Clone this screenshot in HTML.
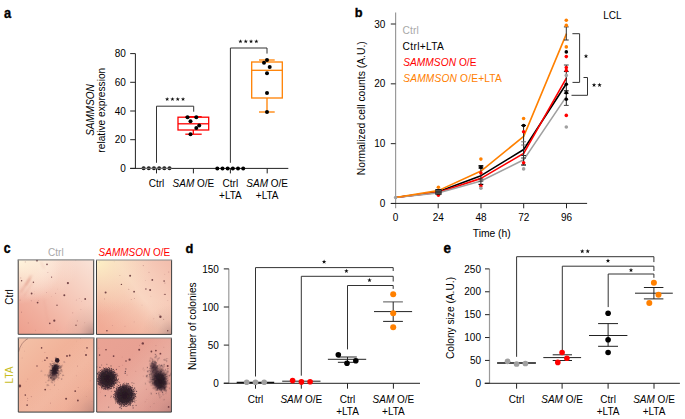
<!DOCTYPE html>
<html><head><meta charset="utf-8"><style>
html,body{margin:0;padding:0;background:#fff;overflow:hidden;width:685px;height:419px;}
svg{display:block;font-family:"Liberation Sans",sans-serif;}
</style></head><body>
<svg width="685" height="419" viewBox="0 0 685 419">
<rect width="685" height="419" fill="#fff"/>
<text transform="translate(3.9 17.6) scale(0.86 1)" font-size="15" font-weight="bold" stroke="#000" stroke-width="0.35">a</text>
<line x1="130.2" y1="168.4" x2="135.4" y2="168.4" stroke="#222" stroke-width="1"/>
<text x="125.8" y="172.0" font-size="10" text-anchor="end" fill="#000" font-weight="normal">0</text>
<line x1="130.2" y1="139.70000000000002" x2="135.4" y2="139.70000000000002" stroke="#222" stroke-width="1"/>
<text x="125.8" y="143.3" font-size="10" text-anchor="end" fill="#000" font-weight="normal">20</text>
<line x1="130.2" y1="111.0" x2="135.4" y2="111.0" stroke="#222" stroke-width="1"/>
<text x="125.8" y="114.6" font-size="10" text-anchor="end" fill="#000" font-weight="normal">40</text>
<line x1="130.2" y1="82.3" x2="135.4" y2="82.3" stroke="#222" stroke-width="1"/>
<text x="125.8" y="85.89999999999999" font-size="10" text-anchor="end" fill="#000" font-weight="normal">60</text>
<line x1="130.2" y1="53.60000000000001" x2="135.4" y2="53.60000000000001" stroke="#222" stroke-width="1"/>
<text x="125.8" y="57.20000000000001" font-size="10" text-anchor="end" fill="#000" font-weight="normal">80</text>
<line x1="135.4" y1="53.6" x2="135.4" y2="168.4" stroke="#222" stroke-width="1"/>
<line x1="130.2" y1="168.4" x2="288.3" y2="168.4" stroke="#222" stroke-width="1"/>
<line x1="156.5" y1="168.4" x2="156.5" y2="173.4" stroke="#222" stroke-width="1"/>
<line x1="193.4" y1="168.4" x2="193.4" y2="173.4" stroke="#222" stroke-width="1"/>
<line x1="230.4" y1="168.4" x2="230.4" y2="173.4" stroke="#222" stroke-width="1"/>
<line x1="267.2" y1="168.4" x2="267.2" y2="173.4" stroke="#222" stroke-width="1"/>
<text x="156.5" y="186.6" font-size="10" text-anchor="middle" fill="#000" font-weight="normal">Ctrl</text>
<text x="193.4" y="186.6" font-size="10" text-anchor="middle"><tspan font-style="italic">SAM</tspan> O/E</text>
<text x="230.4" y="186.6" font-size="10" text-anchor="middle" fill="#000" font-weight="normal">Ctrl</text>
<text x="230.4" y="199.4" font-size="10" text-anchor="middle" fill="#000" font-weight="normal">+LTA</text>
<text x="267.2" y="186.6" font-size="10" text-anchor="middle"><tspan font-style="italic">SAM</tspan> O/E</text>
<text x="267.2" y="199.4" font-size="10" text-anchor="middle" fill="#000" font-weight="normal">+LTA</text>
<text x="94.2" y="110" font-size="10" text-anchor="middle" fill="#000" font-weight="normal" transform="rotate(-90 94.2 110)" font-style="italic">SAMMSON</text>
<text x="104.8" y="110.2" font-size="10.2" text-anchor="middle" fill="#000" font-weight="normal" transform="rotate(-90 104.8 110.2)">relative expression</text>
<polyline points="156.5,162.8 156.5,106.2 193.7,106.2 193.7,111.7" fill="none" stroke="#333" stroke-width="1" stroke-linejoin="round"/>
<polygon points="167.15,97.00 167.69,98.45 169.24,98.52 168.03,99.49 168.44,100.98 167.15,100.12 165.86,100.98 166.27,99.49 165.06,98.52 166.61,98.45" fill="#111"/>
<polygon points="172.45,97.00 172.99,98.45 174.54,98.52 173.33,99.49 173.74,100.98 172.45,100.12 171.16,100.98 171.57,99.49 170.36,98.52 171.91,98.45" fill="#111"/>
<polygon points="177.75,97.00 178.29,98.45 179.84,98.52 178.63,99.49 179.04,100.98 177.75,100.12 176.46,100.98 176.87,99.49 175.66,98.52 177.21,98.45" fill="#111"/>
<polygon points="183.05,97.00 183.59,98.45 185.14,98.52 183.93,99.49 184.34,100.98 183.05,100.12 181.76,100.98 182.17,99.49 180.96,98.52 182.51,98.45" fill="#111"/>
<polyline points="230.4,162.8 230.4,48 267,48 267,53.6" fill="none" stroke="#333" stroke-width="1" stroke-linejoin="round"/>
<polygon points="240.45,39.20 240.99,40.65 242.54,40.72 241.33,41.69 241.74,43.18 240.45,42.32 239.16,43.18 239.57,41.69 238.36,40.72 239.91,40.65" fill="#111"/>
<polygon points="245.75,39.20 246.29,40.65 247.84,40.72 246.63,41.69 247.04,43.18 245.75,42.32 244.46,43.18 244.87,41.69 243.66,40.72 245.21,40.65" fill="#111"/>
<polygon points="251.05,39.20 251.59,40.65 253.14,40.72 251.93,41.69 252.34,43.18 251.05,42.32 249.76,43.18 250.17,41.69 248.96,40.72 250.51,40.65" fill="#111"/>
<polygon points="256.35,39.20 256.89,40.65 258.44,40.72 257.23,41.69 257.64,43.18 256.35,42.32 255.06,43.18 255.47,41.69 254.26,40.72 255.81,40.65" fill="#111"/>
<rect x="178" y="117.2" width="30.7" height="12.8" fill="none" stroke="#ff0000" stroke-width="1.3"/>
<line x1="178" y1="123.8" x2="208.7" y2="123.8" stroke="#ff0000" stroke-width="1.3"/>
<line x1="185.3" y1="116.7" x2="201.7" y2="116.7" stroke="#ff0000" stroke-width="1.3"/>
<line x1="193.3" y1="130" x2="193.3" y2="134.2" stroke="#ff0000" stroke-width="1.3"/>
<line x1="185.3" y1="134.2" x2="201.7" y2="134.2" stroke="#ff0000" stroke-width="1.3"/>
<circle cx="187.5" cy="117.2" r="2.0" fill="#000"/>
<circle cx="196.3" cy="117.2" r="2.0" fill="#000"/>
<circle cx="190.5" cy="121.3" r="2.0" fill="#000"/>
<circle cx="199.2" cy="125.5" r="2.0" fill="#000"/>
<circle cx="196.3" cy="128" r="2.0" fill="#000"/>
<circle cx="190.5" cy="134.2" r="2.0" fill="#000"/>
<rect x="251.7" y="62" width="30.6" height="36" fill="none" stroke="#ff8000" stroke-width="1.3"/>
<line x1="251.7" y1="70.3" x2="282.3" y2="70.3" stroke="#ff8000" stroke-width="1.3"/>
<line x1="267" y1="60" x2="267" y2="62" stroke="#ff8000" stroke-width="1.3"/>
<line x1="259" y1="60" x2="274.7" y2="60" stroke="#ff8000" stroke-width="1.3"/>
<line x1="267" y1="98" x2="267" y2="112" stroke="#ff8000" stroke-width="1.3"/>
<line x1="259" y1="112" x2="274.7" y2="112" stroke="#ff8000" stroke-width="1.3"/>
<circle cx="267" cy="60" r="2.0" fill="#000"/>
<circle cx="264" cy="62.8" r="2.0" fill="#000"/>
<circle cx="269.7" cy="67" r="2.0" fill="#000"/>
<circle cx="267" cy="73.3" r="2.0" fill="#000"/>
<circle cx="267" cy="93" r="2.0" fill="#000"/>
<circle cx="267" cy="112" r="2.0" fill="#000"/>
<circle cx="143.6" cy="168.3" r="2.0" fill="#1a1a1a"/>
<circle cx="148.78" cy="168.3" r="2.0" fill="#1a1a1a"/>
<circle cx="153.95999999999998" cy="168.3" r="2.0" fill="#1a1a1a"/>
<circle cx="159.14" cy="168.3" r="2.0" fill="#1a1a1a"/>
<circle cx="164.32" cy="168.3" r="2.0" fill="#1a1a1a"/>
<circle cx="169.5" cy="168.3" r="2.0" fill="#1a1a1a"/>
<line x1="141.6" y1="168.3" x2="171.6" y2="168.3" stroke="#8a8a8a" stroke-width="0.9"/>
<circle cx="217.3" cy="168.4" r="2.0" fill="#000"/>
<circle cx="222.48000000000002" cy="168.4" r="2.0" fill="#000"/>
<circle cx="227.66000000000003" cy="168.4" r="2.0" fill="#000"/>
<circle cx="232.84" cy="168.4" r="2.0" fill="#000"/>
<circle cx="238.02" cy="168.4" r="2.0" fill="#000"/>
<circle cx="243.20000000000002" cy="168.4" r="2.0" fill="#000"/>
<text transform="translate(354.8 17) scale(0.97 1)" font-size="13.2" font-weight="bold" stroke="#000" stroke-width="0.35">b</text>
<line x1="395.6" y1="12.4" x2="395.6" y2="208.3" stroke="#9a9a9a" stroke-width="1.2"/>
<line x1="390.8" y1="203.5" x2="395.6" y2="203.5" stroke="#222" stroke-width="1"/>
<text x="385.4" y="207.1" font-size="10" text-anchor="end" fill="#000" font-weight="normal">0</text>
<line x1="390.8" y1="143.67000000000002" x2="395.6" y2="143.67000000000002" stroke="#222" stroke-width="1"/>
<text x="385.4" y="147.27" font-size="10" text-anchor="end" fill="#000" font-weight="normal">10</text>
<line x1="390.8" y1="83.84" x2="395.6" y2="83.84" stroke="#222" stroke-width="1"/>
<text x="385.4" y="87.44" font-size="10" text-anchor="end" fill="#000" font-weight="normal">20</text>
<line x1="390.8" y1="24.01000000000002" x2="395.6" y2="24.01000000000002" stroke="#222" stroke-width="1"/>
<text x="385.4" y="27.61000000000002" font-size="10" text-anchor="end" fill="#000" font-weight="normal">30</text>
<line x1="390.9" y1="203.4" x2="587.1" y2="203.4" stroke="#222" stroke-width="1"/>
<text x="395.5" y="220.5" font-size="10" text-anchor="middle" fill="#000" font-weight="normal">0</text>
<line x1="438.2" y1="203.4" x2="438.2" y2="208.3" stroke="#222" stroke-width="1"/>
<text x="438.2" y="220.5" font-size="10" text-anchor="middle" fill="#000" font-weight="normal">24</text>
<line x1="481" y1="203.4" x2="481" y2="208.3" stroke="#222" stroke-width="1"/>
<text x="481" y="220.5" font-size="10" text-anchor="middle" fill="#000" font-weight="normal">48</text>
<line x1="523.7" y1="203.4" x2="523.7" y2="208.3" stroke="#222" stroke-width="1"/>
<text x="523.7" y="220.5" font-size="10" text-anchor="middle" fill="#000" font-weight="normal">72</text>
<line x1="566.5" y1="203.4" x2="566.5" y2="208.3" stroke="#222" stroke-width="1"/>
<text x="566.5" y="220.5" font-size="10" text-anchor="middle" fill="#000" font-weight="normal">96</text>
<text x="491.7" y="236.9" font-size="10.3" text-anchor="middle" fill="#000" font-weight="normal">Time (h)</text>
<text x="365" y="108.2" font-size="10.35" text-anchor="middle" fill="#000" font-weight="normal" transform="rotate(-90 365 108.2)">Normalized cell counts (A.U.)</text>
<text x="402.6" y="33.9" font-size="10.2" fill="#a8a8a8" textLength="16.2">Ctrl</text>
<text x="402.6" y="49.6" font-size="10.2" fill="#000" textLength="41.2">Ctrl+LTA</text>
<text x="403.2" y="65.7" font-size="10.2" fill="#ff0000" textLength="73.3"><tspan font-style="italic">SAMMSON</tspan> O/E</text>
<text x="403.2" y="81.5" font-size="10.2" fill="#ff8000" textLength="98.6"><tspan font-style="italic">SAMMSON</tspan> O/E+LTA</text>
<text x="603.3" y="19.3" font-size="10" text-anchor="start" fill="#000" font-weight="normal">LCL</text>
<polyline points="395.5,197.517 438.2,191.83315 481,175.67905 523.7,149.47351 566.5,83.54085" fill="none" stroke="#000" stroke-width="1.6" stroke-linejoin="round"/>
<polyline points="395.5,197.517 438.2,192.43145 481,178.3714 523.7,153.42229 566.5,77.85700000000001" fill="none" stroke="#ff0000" stroke-width="1.6" stroke-linejoin="round"/>
<polyline points="395.5,197.517 438.2,193.02975 481,181.00392 523.7,159.8241 566.5,96.40430000000002" fill="none" stroke="#a0a0a0" stroke-width="1.6" stroke-linejoin="round"/>
<polyline points="395.5,197.517 438.2,190.63655 481,171.01231 523.7,136.43057 566.5,33.58280000000002" fill="none" stroke="#ff8000" stroke-width="1.6" stroke-linejoin="round"/>
<circle cx="438.4" cy="187.2" r="1.8" fill="#ff8000"/>
<circle cx="438.4" cy="195.2" r="1.7" fill="#ff0000"/>
<rect x="435.3" y="189" width="6.3" height="5.8" fill="#181818"/>
<line x1="435.8" y1="190.9" x2="441.2" y2="190.9" stroke="#9a9a9a" stroke-width="0.7"/>
<line x1="435.8" y1="193.1" x2="441.2" y2="193.1" stroke="#9a9a9a" stroke-width="0.7"/>
<line x1="480.9" y1="165.9" x2="480.9" y2="184.4" stroke="#222" stroke-width="1"/>
<line x1="478.5" y1="165.9" x2="483.29999999999995" y2="165.9" stroke="#000" stroke-width="1.6"/>
<line x1="478.5" y1="168" x2="483.29999999999995" y2="168" stroke="#000" stroke-width="1.2"/>
<line x1="478.5" y1="179" x2="483.29999999999995" y2="179" stroke="#333" stroke-width="1"/>
<line x1="478.5" y1="181.2" x2="483.29999999999995" y2="181.2" stroke="#444" stroke-width="1"/>
<line x1="478.5" y1="184.4" x2="483.29999999999995" y2="184.4" stroke="#000" stroke-width="1.2"/>
<circle cx="480.9" cy="159.1" r="1.8" fill="#ff8000"/>
<circle cx="480.9" cy="167.5" r="1.8" fill="#000"/>
<circle cx="480.9" cy="173" r="1.8" fill="#ff0000"/>
<circle cx="480.9" cy="186" r="1.8" fill="#ff0000"/>
<circle cx="480.9" cy="188.2" r="1.8" fill="#a0a0a0"/>
<line x1="523.6" y1="125.5" x2="523.6" y2="165" stroke="#222" stroke-width="1"/>
<line x1="521.2" y1="125.5" x2="526.0" y2="125.5" stroke="#000" stroke-width="1.2"/>
<line x1="521.2" y1="141.8" x2="526.0" y2="141.8" stroke="#777" stroke-width="1"/>
<line x1="521.2" y1="145" x2="526.0" y2="145" stroke="#777" stroke-width="1"/>
<line x1="521.2" y1="155.5" x2="526.0" y2="155.5" stroke="#333" stroke-width="1"/>
<line x1="521.2" y1="158" x2="526.0" y2="158" stroke="#333" stroke-width="1"/>
<line x1="521.2" y1="165" x2="526.0" y2="165" stroke="#000" stroke-width="1.2"/>
<circle cx="523.6" cy="118.5" r="1.8" fill="#ff8000"/>
<circle cx="523.6" cy="125.5" r="1.8" fill="#000"/>
<circle cx="523.6" cy="131.7" r="1.8" fill="#ff0000"/>
<circle cx="523.6" cy="162.7" r="1.8" fill="#ff0000"/>
<circle cx="523.6" cy="168.9" r="1.8" fill="#a0a0a0"/>
<line x1="566.3" y1="65" x2="566.3" y2="105.4" stroke="#222" stroke-width="1"/>
<line x1="563.9" y1="65" x2="568.6999999999999" y2="65" stroke="#444" stroke-width="1"/>
<line x1="563.9" y1="71.5" x2="568.6999999999999" y2="71.5" stroke="#222" stroke-width="1.1"/>
<line x1="563.9" y1="90.8" x2="568.6999999999999" y2="90.8" stroke="#111" stroke-width="1.1"/>
<line x1="563.9" y1="93.3" x2="568.6999999999999" y2="93.3" stroke="#111" stroke-width="1"/>
<line x1="563.9" y1="105.4" x2="568.6999999999999" y2="105.4" stroke="#444" stroke-width="1"/>
<line x1="566.3" y1="26.9" x2="566.3" y2="40" stroke="#333" stroke-width="1"/>
<line x1="563.9" y1="26.9" x2="568.7" y2="26.9" stroke="#333" stroke-width="1"/>
<line x1="563.9" y1="40" x2="568.7" y2="40" stroke="#333" stroke-width="1"/>
<circle cx="566.3" cy="20.2" r="1.8" fill="#ff8000"/>
<circle cx="566.3" cy="25.4" r="1.8" fill="#ff8000"/>
<circle cx="566.3" cy="46.9" r="1.8" fill="#ff8000"/>
<circle cx="566.3" cy="51.9" r="1.8" fill="#000"/>
<circle cx="566.3" cy="56.6" r="1.8" fill="#ff0000"/>
<circle cx="566.3" cy="67.6" r="1.8" fill="#ff0000"/>
<circle cx="566.3" cy="70.5" r="1.8" fill="#ff0000"/>
<circle cx="566.3" cy="75.4" r="1.8" fill="#a0a0a0"/>
<circle cx="566.3" cy="84.2" r="1.8" fill="#000"/>
<circle cx="566.3" cy="92.8" r="1.8" fill="#000"/>
<circle cx="566.3" cy="99.2" r="1.8" fill="#000"/>
<circle cx="566.3" cy="115.4" r="1.8" fill="#ff0000"/>
<circle cx="566.3" cy="127" r="1.8" fill="#a0a0a0"/>
<circle cx="395.6" cy="197.6" r="1.8" fill="#a0a0a0"/>
<polyline points="572.4,33.7 579.6,33.7 579.6,82.4 572.5,82.4" fill="none" stroke="#333" stroke-width="1" stroke-linejoin="round"/>
<polygon points="586.00,53.85 586.58,55.40 588.23,55.47 586.94,56.50 587.38,58.10 586.00,57.19 584.62,58.10 585.06,56.50 583.77,55.47 585.42,55.40" fill="#111"/>
<polyline points="583.5,77.5 587.5,77.5 587.5,95.3 571.5,95.3" fill="none" stroke="#333" stroke-width="1" stroke-linejoin="round"/>
<polygon points="594.05,82.65 594.63,84.20 596.28,84.27 594.99,85.30 595.43,86.90 594.05,85.99 592.67,86.90 593.11,85.30 591.82,84.27 593.47,84.20" fill="#111"/>
<polygon points="599.55,82.65 600.13,84.20 601.78,84.27 600.49,85.30 600.93,86.90 599.55,85.99 598.17,86.90 598.61,85.30 597.32,84.27 598.97,84.20" fill="#111"/>
<text transform="translate(3.8 252.8) scale(0.86 1)" font-size="14.2" font-weight="bold" stroke="#000" stroke-width="0.35">c</text>
<text x="55.9" y="255.9" font-size="10" text-anchor="middle" fill="#a8a8a8" font-weight="normal">Ctrl</text>
<text x="134.4" y="255.9" font-size="10" text-anchor="middle" fill="#ff0000"><tspan font-style="italic">SAMMSON</tspan> O/E</text>
<text x="13" y="297" font-size="10" text-anchor="middle" fill="#000" font-weight="normal" transform="rotate(-90 13 297)">Ctrl</text>
<text x="13" y="375" font-size="10" text-anchor="middle" fill="#c8bd1f" font-weight="normal" transform="rotate(-90 13 375)">LTA</text>
<defs><radialGradient id="blob" cx="0.5" cy="0.5" r="0.5"><stop offset="0" stop-color="#261820"/><stop offset="0.6" stop-color="#2c1c26" stop-opacity="0.97"/><stop offset="0.82" stop-color="#3a2630" stop-opacity="0.75"/><stop offset="1" stop-color="#4a3038" stop-opacity="0"/></radialGradient><radialGradient id="blob2" cx="0.5" cy="0.5" r="0.5"><stop offset="0" stop-color="#2e1e28" stop-opacity="0.9"/><stop offset="0.5" stop-color="#3a2630" stop-opacity="0.7"/><stop offset="1" stop-color="#4a3038" stop-opacity="0"/></radialGradient><radialGradient id="tl" cx="0" cy="0" r="0.6"><stop offset="0" stop-color="#fff6de" stop-opacity="1"/><stop offset="0.45" stop-color="#fdecd6" stop-opacity="0.55"/><stop offset="1" stop-color="#fff8ee" stop-opacity="0"/></radialGradient><radialGradient id="br" cx="1" cy="1" r="0.4"><stop offset="0" stop-color="#5a4048" stop-opacity="0.7"/><stop offset="0.5" stop-color="#8a6868" stop-opacity="0.2"/><stop offset="1" stop-color="#8a7070" stop-opacity="0"/></radialGradient><linearGradient id="band" x1="0" y1="0" x2="1" y2="1"><stop offset="0.35" stop-color="#fff0e0" stop-opacity="0"/><stop offset="0.6" stop-color="#fff0e0" stop-opacity="0.45"/><stop offset="0.85" stop-color="#fff0e0" stop-opacity="0"/></linearGradient><filter id="sb" x="-100%" y="-100%" width="300%" height="300%"><feGaussianBlur stdDeviation="0.35"/></filter><filter id="sb3" x="-100%" y="-100%" width="300%" height="300%"><feGaussianBlur stdDeviation="0.8"/></filter><filter id="sb2" x="-20%" y="-20%" width="140%" height="140%"><feGaussianBlur stdDeviation="0.4"/></filter><filter id="rough" x="-30%" y="-30%" width="160%" height="160%"><feTurbulence type="fractalNoise" baseFrequency="0.8" numOctaves="2" seed="3" result="t"/><feDisplacementMap in="SourceGraphic" in2="t" scale="5" xChannelSelector="R" yChannelSelector="G"/></filter></defs>
<defs><linearGradient id="g1" x1="1" y1="0.05" x2="0.1" y2="1"><stop offset="0" stop-color="#f9e2d6"/><stop offset="0.45" stop-color="#f5c6b6"/><stop offset="0.75" stop-color="#f1b09f"/><stop offset="1" stop-color="#eea290"/></linearGradient><clipPath id="cp1"><rect x="18.2" y="259.8" width="75.5" height="74.5"/></clipPath></defs>
<g clip-path="url(#cp1)"><rect x="18.2" y="259.8" width="75.5" height="74.5" fill="url(#g1)"/>
<defs><radialGradient id="L1_0" cx="0.25" cy="0" r="0.55"><stop offset="0" stop-color="#fff4e4" stop-opacity="0.85"/><stop offset="0.6" stop-color="#fde8d8" stop-opacity="0.35"/><stop offset="1" stop-color="#fde8d8" stop-opacity="0"/></radialGradient></defs>
<rect x="18.2" y="259.8" width="75.5" height="74.5" fill="url(#L1_0)"/>
<rect x="18.2" y="259.8" width="75.5" height="74.5" fill="url(#tl)" opacity="1"/>
<rect x="18.2" y="259.8" width="75.5" height="74.5" fill="url(#br)" opacity="0.55"/>
<line x1="21" y1="292" x2="31" y2="276" stroke="#d27868" stroke-width="1.4" opacity="0.45" stroke-linecap="round" filter="url(#sb3)"/>
<line x1="24" y1="296" x2="33" y2="282" stroke="#d27868" stroke-width="1.0" opacity="0.35" stroke-linecap="round" filter="url(#sb3)"/>
<line x1="26" y1="285" x2="30" y2="279" stroke="#d27868" stroke-width="1.6" opacity="0.4" stroke-linecap="round" filter="url(#sb3)"/>
<line x1="41" y1="262" x2="44" y2="268" stroke="#d27868" stroke-width="1.0" opacity="0.3" stroke-linecap="round" filter="url(#sb3)"/>
<line x1="44" y1="300" x2="48" y2="322" stroke="#d27868" stroke-width="0.8" opacity="0.2" stroke-linecap="round" filter="url(#sb3)"/>
<circle cx="37" cy="260.5" r="1.1" fill="#5e2e34" opacity="0.85" filter="url(#sb)"/>
<circle cx="47" cy="264.4" r="0.8" fill="#5e2e34" opacity="0.85" filter="url(#sb)"/>
<circle cx="67.9" cy="283.1" r="1.1" fill="#5e2e34" opacity="0.85" filter="url(#sb)"/>
<circle cx="31.6" cy="293.5" r="0.9" fill="#5e2e34" opacity="0.85" filter="url(#sb)"/>
<circle cx="37.6" cy="302.6" r="0.9" fill="#5e2e34" opacity="0.85" filter="url(#sb)"/>
<circle cx="64.3" cy="295.3" r="1" fill="#5e2e34" opacity="0.85" filter="url(#sb)"/>
<circle cx="85.2" cy="299" r="0.9" fill="#5e2e34" opacity="0.85" filter="url(#sb)"/>
<circle cx="54.3" cy="320.7" r="1.1" fill="#5e2e34" opacity="0.85" filter="url(#sb)"/>
<circle cx="33.4" cy="282.2" r="0.7" fill="#5e2e34" opacity="0.85" filter="url(#sb)"/>
<circle cx="49.8" cy="323.4" r="0.8" fill="#5e2e34" opacity="0.85" filter="url(#sb)"/>
<circle cx="57" cy="305.3" r="0.7" fill="#5e2e34" opacity="0.85" filter="url(#sb)"/>
<circle cx="76" cy="325.2" r="0.7" fill="#5e2e34" opacity="0.85" filter="url(#sb)"/>
<circle cx="21.6" cy="280.8" r="0.7" fill="#5e2e34" opacity="0.85" filter="url(#sb)"/>
<circle cx="51.6" cy="277.1" r="0.6" fill="#5e2e34" opacity="0.85" filter="url(#sb)"/>
<circle cx="28.3" cy="322.9" r="0.53" fill="#8a4a50" opacity="0.28"/>
<circle cx="55.6" cy="293.3" r="0.50" fill="#8a4a50" opacity="0.44"/>
<circle cx="25.3" cy="261.9" r="0.55" fill="#8a4a50" opacity="0.33"/>
<circle cx="75.8" cy="260.0" r="0.43" fill="#8a4a50" opacity="0.42"/>
<circle cx="35.5" cy="330.2" r="0.57" fill="#8a4a50" opacity="0.21"/>
<circle cx="20.1" cy="300.1" r="0.58" fill="#8a4a50" opacity="0.31"/>
<circle cx="34.6" cy="291.2" r="0.31" fill="#8a4a50" opacity="0.27"/>
<circle cx="51.3" cy="296.7" r="0.37" fill="#8a4a50" opacity="0.27"/>
<circle cx="34.7" cy="294.0" r="0.39" fill="#8a4a50" opacity="0.21"/>
<circle cx="81.4" cy="301.3" r="0.49" fill="#8a4a50" opacity="0.26"/>
<circle cx="93.1" cy="323.9" r="0.34" fill="#8a4a50" opacity="0.30"/>
<circle cx="72.7" cy="312.8" r="0.58" fill="#8a4a50" opacity="0.33"/>
<circle cx="80.9" cy="309.7" r="0.39" fill="#8a4a50" opacity="0.38"/>
<circle cx="84.8" cy="322.8" r="0.45" fill="#8a4a50" opacity="0.38"/>
<circle cx="20.8" cy="277.9" r="0.54" fill="#8a4a50" opacity="0.32"/>
<circle cx="31.3" cy="300.7" r="0.51" fill="#8a4a50" opacity="0.40"/>
<circle cx="46.5" cy="292.5" r="0.45" fill="#8a4a50" opacity="0.43"/>
<circle cx="57.5" cy="289.1" r="0.45" fill="#8a4a50" opacity="0.21"/>
<circle cx="21.5" cy="312.2" r="0.59" fill="#8a4a50" opacity="0.38"/>
<circle cx="47.9" cy="272.5" r="0.45" fill="#8a4a50" opacity="0.49"/>
<circle cx="76.4" cy="300.0" r="0.56" fill="#8a4a50" opacity="0.27"/>
<circle cx="57.0" cy="330.8" r="0.47" fill="#8a4a50" opacity="0.34"/>
<circle cx="38.5" cy="300.6" r="0.59" fill="#8a4a50" opacity="0.20"/>
<circle cx="77.4" cy="320.9" r="0.57" fill="#8a4a50" opacity="0.42"/>
<circle cx="79.3" cy="298.4" r="0.47" fill="#8a4a50" opacity="0.33"/>
</g>
<path d="M18.2 334.3 V259.8 M93.7 259.8 V334.3 H18.2" fill="none" stroke="#3c3c3c" stroke-width="1"/>
<line x1="17.7" y1="259.8" x2="94.2" y2="259.8" stroke="#8a8a8a" stroke-width="1.2"/>
<defs><linearGradient id="g2" x1="0" y1="0.8" x2="1" y2="0.1"><stop offset="0" stop-color="#f2ae98"/><stop offset="0.4" stop-color="#f6c8b2"/><stop offset="0.55" stop-color="#f9d6c2"/><stop offset="0.8" stop-color="#f6cab8"/><stop offset="1" stop-color="#f3bfae"/></linearGradient><clipPath id="cp2"><rect x="96.5" y="260" width="75.1" height="74.4"/></clipPath></defs>
<g clip-path="url(#cp2)"><rect x="96.5" y="260" width="75.1" height="74.4" fill="url(#g2)"/>
<defs><radialGradient id="L2_0" cx="0" cy="0" r="0.75"><stop offset="0" stop-color="#fdf2c6" stop-opacity="1"/><stop offset="0.45" stop-color="#fae6c4" stop-opacity="0.6"/><stop offset="1" stop-color="#f8dcc0" stop-opacity="0"/></radialGradient></defs>
<rect x="96.5" y="260" width="75.1" height="74.4" fill="url(#L2_0)"/>
<defs><linearGradient id="L2_1" x1="0" y1="0" x2="0" y2="1"><stop offset="0" stop-color="#fff" stop-opacity="0"/><stop offset="0.55" stop-color="#f0a898" stop-opacity="0"/><stop offset="1" stop-color="#eea592" stop-opacity="0.4"/></linearGradient></defs>
<rect x="96.5" y="260" width="75.1" height="74.4" fill="url(#L2_1)"/>
<rect x="96.5" y="260" width="75.1" height="74.4" fill="url(#br)" opacity="0.5"/>
<circle cx="130.1" cy="275.7" r="1" fill="#5e2e34" opacity="0.85" filter="url(#sb)"/>
<circle cx="152.3" cy="279.9" r="0.9" fill="#5e2e34" opacity="0.85" filter="url(#sb)"/>
<circle cx="164.1" cy="281.1" r="0.8" fill="#5e2e34" opacity="0.85" filter="url(#sb)"/>
<circle cx="105.6" cy="292.6" r="1" fill="#5e2e34" opacity="0.85" filter="url(#sb)"/>
<circle cx="134.1" cy="291.7" r="0.9" fill="#5e2e34" opacity="0.85" filter="url(#sb)"/>
<circle cx="150.1" cy="289.9" r="1" fill="#5e2e34" opacity="0.85" filter="url(#sb)"/>
<circle cx="160.4" cy="316.7" r="1.2" fill="#5e2e34" opacity="0.85" filter="url(#sb)"/>
<circle cx="121.4" cy="284.4" r="0.7" fill="#5e2e34" opacity="0.85" filter="url(#sb)"/>
<circle cx="145.9" cy="289" r="0.7" fill="#5e2e34" opacity="0.85" filter="url(#sb)"/>
<circle cx="165" cy="294.4" r="0.7" fill="#5e2e34" opacity="0.85" filter="url(#sb)"/>
<circle cx="106.9" cy="330.7" r="0.8" fill="#5e2e34" opacity="0.85" filter="url(#sb)"/>
<circle cx="167.7" cy="330.7" r="0.7" fill="#5e2e34" opacity="0.85" filter="url(#sb)"/>
<circle cx="168.3" cy="330.5" r="0.32" fill="#8a4a50" opacity="0.23"/>
<circle cx="159.2" cy="314.8" r="0.50" fill="#8a4a50" opacity="0.29"/>
<circle cx="142.0" cy="305.1" r="0.47" fill="#8a4a50" opacity="0.25"/>
<circle cx="128.8" cy="289.3" r="0.52" fill="#8a4a50" opacity="0.50"/>
<circle cx="167.8" cy="300.5" r="0.43" fill="#8a4a50" opacity="0.28"/>
<circle cx="99.2" cy="262.0" r="0.44" fill="#8a4a50" opacity="0.30"/>
<circle cx="125.0" cy="326.3" r="0.46" fill="#8a4a50" opacity="0.37"/>
<circle cx="114.2" cy="261.8" r="0.40" fill="#8a4a50" opacity="0.24"/>
<circle cx="134.8" cy="334.3" r="0.50" fill="#8a4a50" opacity="0.25"/>
<circle cx="163.6" cy="319.3" r="0.52" fill="#8a4a50" opacity="0.47"/>
<circle cx="153.8" cy="318.8" r="0.41" fill="#8a4a50" opacity="0.49"/>
<circle cx="168.7" cy="272.0" r="0.53" fill="#8a4a50" opacity="0.41"/>
<circle cx="131.2" cy="299.5" r="0.45" fill="#8a4a50" opacity="0.48"/>
<circle cx="134.1" cy="321.9" r="0.41" fill="#8a4a50" opacity="0.46"/>
<circle cx="164.1" cy="294.3" r="0.47" fill="#8a4a50" opacity="0.48"/>
<circle cx="150.9" cy="296.2" r="0.37" fill="#8a4a50" opacity="0.30"/>
<circle cx="149.0" cy="272.4" r="0.57" fill="#8a4a50" opacity="0.28"/>
<circle cx="164.9" cy="283.0" r="0.59" fill="#8a4a50" opacity="0.41"/>
<circle cx="134.4" cy="298.5" r="0.50" fill="#8a4a50" opacity="0.38"/>
<circle cx="119.9" cy="275.5" r="0.45" fill="#8a4a50" opacity="0.48"/>
<circle cx="143.3" cy="265.6" r="0.55" fill="#8a4a50" opacity="0.42"/>
<circle cx="164.7" cy="274.2" r="0.52" fill="#8a4a50" opacity="0.22"/>
<circle cx="145.5" cy="280.3" r="0.37" fill="#8a4a50" opacity="0.46"/>
<circle cx="104.5" cy="298.9" r="0.56" fill="#8a4a50" opacity="0.27"/>
<circle cx="112.3" cy="325.5" r="0.43" fill="#8a4a50" opacity="0.42"/>
</g>
<path d="M96.5 334.4 V260 M171.6 260 V334.4 H96.5" fill="none" stroke="#3c3c3c" stroke-width="1"/>
<line x1="96.0" y1="260" x2="172.1" y2="260" stroke="#8a8a8a" stroke-width="1.2"/>
<defs><linearGradient id="g3" x1="0" y1="0" x2="1" y2="1"><stop offset="0" stop-color="#f4c2a8"/><stop offset="0.4" stop-color="#f1b198"/><stop offset="0.8" stop-color="#efad96"/><stop offset="1" stop-color="#e0a08e"/></linearGradient><clipPath id="cp3"><rect x="18.3" y="337.8" width="75.6" height="74.3"/></clipPath></defs>
<g clip-path="url(#cp3)"><rect x="18.3" y="337.8" width="75.6" height="74.3" fill="url(#g3)"/>
<rect x="18.3" y="337.8" width="75.6" height="74.3" fill="url(#band)" opacity="0.3"/>
<rect x="18.3" y="337.8" width="75.6" height="74.3" fill="url(#br)" opacity="0.3"/>
<g transform="rotate(18 54.5 372)"><ellipse cx="54.5" cy="372" rx="6.2" ry="10.5" fill="url(#blob2)" filter="url(#rough)"/>
<g fill="#3a2530" filter="url(#sb2)"><circle cx="55.0" cy="382.6" r="0.61" opacity="0.63"/><circle cx="58.6" cy="375.0" r="0.40" opacity="0.73"/><circle cx="54.2" cy="379.8" r="0.56" opacity="0.73"/><circle cx="41.8" cy="375.2" r="0.62" opacity="0.42"/><circle cx="50.5" cy="364.4" r="0.66" opacity="0.65"/><circle cx="60.2" cy="376.1" r="0.67" opacity="0.62"/><circle cx="51.6" cy="386.8" r="0.57" opacity="0.67"/><circle cx="58.0" cy="366.4" r="0.65" opacity="0.76"/><circle cx="50.8" cy="376.9" r="0.73" opacity="0.75"/><circle cx="59.9" cy="378.4" r="0.45" opacity="0.45"/><circle cx="61.7" cy="369.3" r="0.51" opacity="0.58"/><circle cx="50.5" cy="377.8" r="0.52" opacity="0.61"/><circle cx="48.3" cy="365.8" r="0.73" opacity="0.74"/><circle cx="60.6" cy="371.4" r="0.63" opacity="0.42"/><circle cx="60.7" cy="359.5" r="0.60" opacity="0.67"/><circle cx="55.7" cy="380.3" r="0.69" opacity="0.61"/><circle cx="52.6" cy="386.5" r="0.75" opacity="0.39"/><circle cx="56.3" cy="362.6" r="0.54" opacity="0.42"/><circle cx="53.3" cy="379.1" r="0.42" opacity="0.63"/><circle cx="63.5" cy="376.4" r="0.65" opacity="0.50"/><circle cx="59.6" cy="363.9" r="0.75" opacity="0.49"/><circle cx="58.1" cy="375.2" r="0.61" opacity="0.36"/><circle cx="56.7" cy="383.1" r="0.45" opacity="0.37"/><circle cx="58.4" cy="364.7" r="0.51" opacity="0.78"/><circle cx="59.2" cy="365.9" r="0.58" opacity="0.64"/><circle cx="49.7" cy="366.4" r="0.60" opacity="0.63"/><circle cx="60.7" cy="367.9" r="0.65" opacity="0.46"/><circle cx="53.3" cy="378.2" r="0.74" opacity="0.58"/><circle cx="48.2" cy="368.6" r="0.60" opacity="0.36"/><circle cx="51.6" cy="367.6" r="0.62" opacity="0.38"/><circle cx="49.0" cy="362.5" r="0.52" opacity="0.67"/><circle cx="54.2" cy="364.2" r="0.41" opacity="0.38"/><circle cx="51.9" cy="363.2" r="0.56" opacity="0.62"/><circle cx="52.7" cy="378.4" r="0.53" opacity="0.49"/><circle cx="50.6" cy="379.0" r="0.53" opacity="0.70"/><circle cx="59.5" cy="373.4" r="0.60" opacity="0.68"/><circle cx="52.8" cy="379.2" r="0.48" opacity="0.43"/><circle cx="46.5" cy="377.8" r="0.64" opacity="0.40"/><circle cx="51.7" cy="381.7" r="0.55" opacity="0.73"/><circle cx="58.5" cy="384.3" r="0.52" opacity="0.64"/><circle cx="58.7" cy="365.7" r="0.44" opacity="0.59"/><circle cx="56.1" cy="378.8" r="0.68" opacity="0.73"/><circle cx="56.4" cy="379.2" r="0.62" opacity="0.71"/><circle cx="49.6" cy="384.2" r="0.45" opacity="0.48"/><circle cx="55.6" cy="365.4" r="0.55" opacity="0.54"/><circle cx="49.2" cy="377.7" r="0.72" opacity="0.42"/><circle cx="63.6" cy="372.5" r="0.75" opacity="0.55"/><circle cx="59.9" cy="369.0" r="0.72" opacity="0.45"/><circle cx="54.3" cy="362.1" r="0.58" opacity="0.48"/><circle cx="50.6" cy="382.3" r="0.48" opacity="0.38"/><circle cx="50.3" cy="367.6" r="0.42" opacity="0.76"/><circle cx="51.5" cy="358.2" r="0.72" opacity="0.75"/></g></g>
<g transform="rotate(18 55 369.5)"><ellipse cx="55" cy="369.5" rx="3.8" ry="6.5" fill="url(#blob)" filter="url(#rough)"/>
<g fill="#3a2530" filter="url(#sb2)"><circle cx="57.0" cy="367.0" r="0.66" opacity="0.43"/><circle cx="54.3" cy="373.4" r="0.63" opacity="0.59"/><circle cx="51.2" cy="373.4" r="0.52" opacity="0.46"/><circle cx="57.0" cy="365.4" r="0.57" opacity="0.70"/></g></g>
<circle cx="47" cy="357.9" r="0.9" fill="#5e2e34" opacity="0.85" filter="url(#sb)"/>
<circle cx="44.9" cy="360.2" r="0.8" fill="#5e2e34" opacity="0.85" filter="url(#sb)"/>
<circle cx="67" cy="356" r="0.9" fill="#5e2e34" opacity="0.85" filter="url(#sb)"/>
<circle cx="69.7" cy="355.5" r="0.9" fill="#5e2e34" opacity="0.85" filter="url(#sb)"/>
<circle cx="86" cy="355.1" r="1" fill="#5e2e34" opacity="0.85" filter="url(#sb)"/>
<circle cx="87" cy="347.9" r="0.8" fill="#5e2e34" opacity="0.85" filter="url(#sb)"/>
<circle cx="19.8" cy="386" r="1.4" fill="#5e2e34" opacity="0.85" filter="url(#sb)"/>
<circle cx="66.1" cy="398.7" r="1" fill="#5e2e34" opacity="0.85" filter="url(#sb)"/>
<circle cx="77.9" cy="400.5" r="0.9" fill="#5e2e34" opacity="0.85" filter="url(#sb)"/>
<circle cx="75.2" cy="391.1" r="0.9" fill="#5e2e34" opacity="0.85" filter="url(#sb)"/>
<circle cx="27.1" cy="405.1" r="0.9" fill="#5e2e34" opacity="0.85" filter="url(#sb)"/>
<circle cx="37" cy="366" r="0.7" fill="#5e2e34" opacity="0.85" filter="url(#sb)"/>
<circle cx="45.2" cy="389.6" r="0.9" fill="#5e2e34" opacity="0.85" filter="url(#sb)"/>
<circle cx="25.3" cy="395.1" r="0.8" fill="#5e2e34" opacity="0.85" filter="url(#sb)"/>
<circle cx="41.6" cy="347.9" r="0.8" fill="#5e2e34" opacity="0.85" filter="url(#sb)"/>
<circle cx="57.2" cy="360.4" r="2.3" fill="#2e1c26" filter="url(#sb)"/><path d="M18.5 352 Q21 342 28 338.5" stroke="#6a4040" stroke-width="0.7" fill="none" opacity="0.6"/>
<circle cx="44.9" cy="352.5" r="0.46" fill="#8a4a50" opacity="0.45"/>
<circle cx="31.3" cy="396.6" r="0.58" fill="#8a4a50" opacity="0.44"/>
<circle cx="80.6" cy="338.4" r="0.49" fill="#8a4a50" opacity="0.46"/>
<circle cx="22.1" cy="358.0" r="0.38" fill="#8a4a50" opacity="0.36"/>
<circle cx="50.3" cy="372.9" r="0.53" fill="#8a4a50" opacity="0.20"/>
<circle cx="22.4" cy="347.2" r="0.34" fill="#8a4a50" opacity="0.22"/>
<circle cx="92.0" cy="401.3" r="0.33" fill="#8a4a50" opacity="0.35"/>
<circle cx="42.2" cy="361.2" r="0.41" fill="#8a4a50" opacity="0.39"/>
<circle cx="62.6" cy="364.6" r="0.36" fill="#8a4a50" opacity="0.30"/>
<circle cx="27.7" cy="379.1" r="0.51" fill="#8a4a50" opacity="0.31"/>
<circle cx="24.3" cy="351.1" r="0.41" fill="#8a4a50" opacity="0.38"/>
<circle cx="77.5" cy="366.1" r="0.54" fill="#8a4a50" opacity="0.39"/>
<circle cx="50.9" cy="365.5" r="0.45" fill="#8a4a50" opacity="0.41"/>
<circle cx="50.1" cy="389.4" r="0.44" fill="#8a4a50" opacity="0.27"/>
<circle cx="58.8" cy="389.5" r="0.32" fill="#8a4a50" opacity="0.33"/>
<circle cx="50.5" cy="403.2" r="0.58" fill="#8a4a50" opacity="0.31"/>
<circle cx="86.2" cy="396.6" r="0.38" fill="#8a4a50" opacity="0.34"/>
<circle cx="27.6" cy="398.2" r="0.50" fill="#8a4a50" opacity="0.47"/>
<circle cx="78.2" cy="387.4" r="0.52" fill="#8a4a50" opacity="0.37"/>
<circle cx="26.1" cy="381.5" r="0.30" fill="#8a4a50" opacity="0.24"/>
<circle cx="76.8" cy="341.1" r="0.33" fill="#8a4a50" opacity="0.23"/>
<circle cx="84.9" cy="351.1" r="0.31" fill="#8a4a50" opacity="0.45"/>
<circle cx="27.5" cy="400.5" r="0.50" fill="#8a4a50" opacity="0.45"/>
<circle cx="90.3" cy="380.8" r="0.54" fill="#8a4a50" opacity="0.21"/>
<circle cx="76.3" cy="375.8" r="0.51" fill="#8a4a50" opacity="0.23"/>
</g>
<path d="M18.3 412.1 V337.8 M93.89999999999999 337.8 V412.1 H18.3" fill="none" stroke="#3c3c3c" stroke-width="1"/>
<line x1="17.8" y1="337.8" x2="94.39999999999999" y2="337.8" stroke="#8a8a8a" stroke-width="1.2"/>
<defs><linearGradient id="g4" x1="0" y1="0" x2="1" y2="1"><stop offset="0" stop-color="#eaa394"/><stop offset="0.5" stop-color="#e7a093"/><stop offset="1" stop-color="#da978e"/></linearGradient><clipPath id="cp4"><rect x="96.7" y="338" width="74.7" height="74.1"/></clipPath></defs>
<g clip-path="url(#cp4)"><rect x="96.7" y="338" width="74.7" height="74.1" fill="url(#g4)"/>
<rect x="96.7" y="338" width="74.7" height="74.1" fill="url(#band)" opacity="0.4"/>
<rect x="96.7" y="338" width="74.7" height="74.1" fill="url(#br)" opacity="0.3"/>
<g transform="rotate(0 107.2 378.7)"><ellipse cx="107.2" cy="378.7" rx="11.2" ry="12" fill="url(#blob)" filter="url(#rough)"/>
<g fill="#3a2530" filter="url(#sb2)"><circle cx="108.1" cy="390.2" r="0.45" opacity="0.38"/><circle cx="99.2" cy="384.8" r="0.72" opacity="0.71"/><circle cx="107.9" cy="370.4" r="0.50" opacity="0.43"/><circle cx="117.3" cy="387.2" r="0.48" opacity="0.77"/><circle cx="111.9" cy="369.4" r="0.47" opacity="0.49"/><circle cx="96.6" cy="367.0" r="0.66" opacity="0.73"/><circle cx="116.4" cy="369.5" r="0.64" opacity="0.58"/><circle cx="111.7" cy="388.6" r="0.57" opacity="0.39"/><circle cx="117.2" cy="374.0" r="0.51" opacity="0.76"/><circle cx="96.9" cy="373.3" r="0.71" opacity="0.73"/><circle cx="94.7" cy="378.0" r="0.55" opacity="0.42"/><circle cx="103.7" cy="389.0" r="0.68" opacity="0.37"/><circle cx="116.4" cy="381.6" r="0.59" opacity="0.56"/><circle cx="101.9" cy="387.3" r="0.75" opacity="0.44"/><circle cx="99.7" cy="383.6" r="0.50" opacity="0.51"/><circle cx="106.9" cy="364.2" r="0.51" opacity="0.60"/><circle cx="113.9" cy="373.8" r="0.48" opacity="0.69"/><circle cx="101.4" cy="373.2" r="0.48" opacity="0.50"/><circle cx="110.8" cy="386.6" r="0.64" opacity="0.75"/><circle cx="114.0" cy="376.6" r="0.66" opacity="0.78"/><circle cx="117.0" cy="379.9" r="0.67" opacity="0.53"/><circle cx="125.4" cy="371.4" r="0.62" opacity="0.72"/><circle cx="104.9" cy="387.7" r="0.45" opacity="0.52"/><circle cx="118.7" cy="375.7" r="0.52" opacity="0.35"/><circle cx="117.8" cy="382.0" r="0.53" opacity="0.48"/><circle cx="119.0" cy="387.6" r="0.74" opacity="0.54"/><circle cx="109.4" cy="387.3" r="0.46" opacity="0.65"/><circle cx="111.5" cy="385.1" r="0.41" opacity="0.57"/><circle cx="107.3" cy="388.7" r="0.59" opacity="0.70"/><circle cx="101.5" cy="382.6" r="0.75" opacity="0.56"/><circle cx="107.6" cy="387.1" r="0.55" opacity="0.46"/><circle cx="112.9" cy="373.6" r="0.69" opacity="0.57"/><circle cx="113.9" cy="380.1" r="0.47" opacity="0.45"/><circle cx="114.4" cy="370.5" r="0.45" opacity="0.37"/><circle cx="125.9" cy="368.9" r="0.54" opacity="0.76"/><circle cx="99.9" cy="367.4" r="0.68" opacity="0.69"/><circle cx="97.6" cy="379.1" r="0.71" opacity="0.75"/><circle cx="114.9" cy="374.5" r="0.52" opacity="0.65"/><circle cx="111.0" cy="365.9" r="0.58" opacity="0.64"/><circle cx="101.7" cy="365.0" r="0.49" opacity="0.77"/><circle cx="125.2" cy="373.3" r="0.74" opacity="0.65"/><circle cx="119.5" cy="382.5" r="0.71" opacity="0.41"/><circle cx="114.7" cy="377.1" r="0.46" opacity="0.64"/><circle cx="99.7" cy="375.0" r="0.66" opacity="0.77"/><circle cx="110.8" cy="397.7" r="0.40" opacity="0.74"/><circle cx="112.4" cy="383.7" r="0.68" opacity="0.70"/><circle cx="119.1" cy="366.4" r="0.47" opacity="0.65"/></g></g>
<g transform="rotate(0 124.7 395.1)"><ellipse cx="124.7" cy="395.1" rx="11.8" ry="12.2" fill="url(#blob)" filter="url(#rough)"/>
<g fill="#3a2530" filter="url(#sb2)"><circle cx="119.6" cy="404.6" r="0.71" opacity="0.70"/><circle cx="116.5" cy="396.6" r="0.41" opacity="0.62"/><circle cx="117.4" cy="395.6" r="0.70" opacity="0.62"/><circle cx="133.0" cy="405.4" r="0.58" opacity="0.35"/><circle cx="132.0" cy="382.8" r="0.69" opacity="0.39"/><circle cx="111.3" cy="391.2" r="0.51" opacity="0.46"/><circle cx="111.3" cy="396.3" r="0.74" opacity="0.39"/><circle cx="136.1" cy="405.4" r="0.58" opacity="0.55"/><circle cx="133.9" cy="383.3" r="0.67" opacity="0.38"/><circle cx="131.0" cy="389.1" r="0.69" opacity="0.54"/><circle cx="128.1" cy="383.9" r="0.46" opacity="0.74"/><circle cx="129.5" cy="405.0" r="0.52" opacity="0.59"/><circle cx="134.7" cy="388.0" r="0.65" opacity="0.35"/><circle cx="119.8" cy="407.5" r="0.65" opacity="0.57"/><circle cx="132.5" cy="399.3" r="0.49" opacity="0.73"/><circle cx="119.3" cy="402.1" r="0.62" opacity="0.65"/><circle cx="107.3" cy="380.3" r="0.51" opacity="0.76"/><circle cx="114.0" cy="397.4" r="0.70" opacity="0.70"/><circle cx="117.5" cy="388.7" r="0.55" opacity="0.41"/><circle cx="126.3" cy="382.6" r="0.45" opacity="0.39"/><circle cx="132.8" cy="405.7" r="0.68" opacity="0.43"/><circle cx="134.4" cy="388.0" r="0.52" opacity="0.63"/><circle cx="134.8" cy="402.0" r="0.54" opacity="0.77"/><circle cx="128.9" cy="404.2" r="0.51" opacity="0.36"/><circle cx="135.6" cy="396.5" r="0.73" opacity="0.72"/><circle cx="128.4" cy="383.6" r="0.46" opacity="0.61"/><circle cx="105.3" cy="395.7" r="0.60" opacity="0.77"/><circle cx="125.3" cy="385.1" r="0.63" opacity="0.65"/><circle cx="124.5" cy="387.2" r="0.62" opacity="0.72"/><circle cx="120.8" cy="406.8" r="0.61" opacity="0.75"/><circle cx="122.0" cy="385.7" r="0.51" opacity="0.45"/><circle cx="115.6" cy="413.0" r="0.71" opacity="0.53"/><circle cx="108.6" cy="407.1" r="0.69" opacity="0.48"/><circle cx="115.8" cy="400.8" r="0.59" opacity="0.66"/><circle cx="119.2" cy="390.1" r="0.53" opacity="0.78"/><circle cx="118.8" cy="389.2" r="0.74" opacity="0.79"/><circle cx="132.4" cy="390.7" r="0.61" opacity="0.49"/><circle cx="130.8" cy="399.2" r="0.72" opacity="0.75"/><circle cx="126.6" cy="384.1" r="0.45" opacity="0.46"/><circle cx="121.6" cy="405.0" r="0.68" opacity="0.66"/><circle cx="117.0" cy="392.7" r="0.74" opacity="0.47"/><circle cx="116.4" cy="393.8" r="0.41" opacity="0.49"/><circle cx="131.3" cy="401.6" r="0.42" opacity="0.80"/><circle cx="121.4" cy="408.6" r="0.66" opacity="0.64"/><circle cx="136.5" cy="391.4" r="0.71" opacity="0.67"/><circle cx="115.4" cy="391.3" r="0.59" opacity="0.58"/><circle cx="133.2" cy="407.9" r="0.70" opacity="0.57"/><circle cx="136.0" cy="400.4" r="0.49" opacity="0.53"/><circle cx="117.9" cy="379.6" r="0.70" opacity="0.50"/><circle cx="118.5" cy="400.6" r="0.71" opacity="0.36"/></g></g>
<g transform="rotate(-10 154 367)"><ellipse cx="154" cy="367" rx="4.5" ry="8" fill="url(#blob2)" filter="url(#rough)"/>
<g fill="#3a2530" filter="url(#sb2)"><circle cx="156.8" cy="365.7" r="0.45" opacity="0.42"/><circle cx="155.9" cy="362.1" r="0.59" opacity="0.56"/><circle cx="153.2" cy="360.0" r="0.46" opacity="0.72"/><circle cx="157.9" cy="366.8" r="0.73" opacity="0.52"/><circle cx="158.1" cy="356.7" r="0.69" opacity="0.61"/><circle cx="158.7" cy="373.6" r="0.51" opacity="0.64"/><circle cx="158.6" cy="360.9" r="0.61" opacity="0.37"/><circle cx="152.1" cy="363.3" r="0.63" opacity="0.49"/><circle cx="159.3" cy="359.7" r="0.62" opacity="0.50"/><circle cx="157.0" cy="357.7" r="0.71" opacity="0.65"/><circle cx="152.3" cy="357.9" r="0.61" opacity="0.59"/><circle cx="157.2" cy="366.6" r="0.65" opacity="0.57"/><circle cx="150.8" cy="365.3" r="0.61" opacity="0.46"/><circle cx="155.8" cy="377.0" r="0.72" opacity="0.66"/><circle cx="157.1" cy="372.0" r="0.74" opacity="0.72"/><circle cx="147.4" cy="366.3" r="0.62" opacity="0.63"/><circle cx="156.7" cy="367.6" r="0.66" opacity="0.37"/><circle cx="150.2" cy="367.9" r="0.71" opacity="0.69"/></g></g>
<g transform="rotate(-15 158.5 378)"><ellipse cx="158.5" cy="378" rx="10.5" ry="14.5" fill="url(#blob2)" filter="url(#rough)"/>
<g fill="#3a2530" filter="url(#sb2)"><circle cx="162.5" cy="365.6" r="0.50" opacity="0.52"/><circle cx="149.8" cy="368.7" r="0.74" opacity="0.69"/><circle cx="163.3" cy="370.3" r="0.50" opacity="0.66"/><circle cx="160.4" cy="367.6" r="0.46" opacity="0.36"/><circle cx="167.0" cy="368.0" r="0.73" opacity="0.47"/><circle cx="158.9" cy="361.7" r="0.69" opacity="0.49"/><circle cx="151.2" cy="368.6" r="0.49" opacity="0.58"/><circle cx="165.0" cy="379.7" r="0.72" opacity="0.41"/><circle cx="159.0" cy="364.0" r="0.43" opacity="0.79"/><circle cx="163.0" cy="388.8" r="0.73" opacity="0.65"/><circle cx="164.7" cy="370.9" r="0.57" opacity="0.40"/><circle cx="147.7" cy="401.4" r="0.46" opacity="0.46"/><circle cx="164.2" cy="366.2" r="0.44" opacity="0.79"/><circle cx="154.9" cy="394.7" r="0.72" opacity="0.38"/><circle cx="163.7" cy="367.6" r="0.46" opacity="0.67"/><circle cx="165.0" cy="379.6" r="0.47" opacity="0.37"/><circle cx="154.3" cy="389.4" r="0.51" opacity="0.79"/><circle cx="146.2" cy="364.5" r="0.46" opacity="0.45"/><circle cx="175.0" cy="371.6" r="0.73" opacity="0.66"/><circle cx="174.2" cy="375.1" r="0.65" opacity="0.65"/><circle cx="164.0" cy="366.6" r="0.44" opacity="0.44"/><circle cx="166.4" cy="390.8" r="0.59" opacity="0.51"/><circle cx="158.2" cy="368.2" r="0.69" opacity="0.69"/><circle cx="166.5" cy="380.7" r="0.48" opacity="0.61"/><circle cx="161.6" cy="389.7" r="0.62" opacity="0.50"/><circle cx="152.4" cy="387.7" r="0.47" opacity="0.51"/><circle cx="175.7" cy="375.2" r="0.47" opacity="0.36"/><circle cx="162.0" cy="390.6" r="0.73" opacity="0.57"/><circle cx="171.2" cy="382.7" r="0.51" opacity="0.67"/><circle cx="151.3" cy="386.0" r="0.56" opacity="0.51"/><circle cx="149.2" cy="382.5" r="0.45" opacity="0.36"/><circle cx="159.9" cy="368.8" r="0.44" opacity="0.48"/><circle cx="148.1" cy="372.5" r="0.71" opacity="0.57"/><circle cx="167.6" cy="375.9" r="0.62" opacity="0.62"/><circle cx="153.0" cy="372.5" r="0.65" opacity="0.36"/><circle cx="151.9" cy="381.8" r="0.41" opacity="0.43"/><circle cx="156.6" cy="389.8" r="0.55" opacity="0.49"/><circle cx="152.9" cy="369.3" r="0.64" opacity="0.59"/><circle cx="168.3" cy="374.4" r="0.73" opacity="0.47"/><circle cx="152.4" cy="392.3" r="0.53" opacity="0.74"/><circle cx="161.0" cy="388.0" r="0.56" opacity="0.40"/><circle cx="171.8" cy="361.5" r="0.45" opacity="0.67"/><circle cx="146.8" cy="366.8" r="0.42" opacity="0.72"/><circle cx="169.9" cy="362.1" r="0.67" opacity="0.62"/><circle cx="147.2" cy="373.6" r="0.49" opacity="0.38"/><circle cx="150.1" cy="379.8" r="0.57" opacity="0.48"/><circle cx="155.3" cy="366.8" r="0.74" opacity="0.75"/><circle cx="156.9" cy="386.9" r="0.59" opacity="0.73"/><circle cx="162.1" cy="370.6" r="0.43" opacity="0.55"/><circle cx="172.2" cy="388.4" r="0.50" opacity="0.73"/><circle cx="169.1" cy="373.8" r="0.69" opacity="0.44"/><circle cx="177.2" cy="363.4" r="0.40" opacity="0.35"/><circle cx="154.8" cy="397.0" r="0.58" opacity="0.54"/><circle cx="167.5" cy="386.2" r="0.62" opacity="0.58"/><circle cx="147.3" cy="373.1" r="0.64" opacity="0.38"/><circle cx="151.4" cy="382.2" r="0.67" opacity="0.50"/><circle cx="154.3" cy="387.3" r="0.50" opacity="0.61"/><circle cx="164.0" cy="384.9" r="0.73" opacity="0.42"/><circle cx="159.4" cy="367.4" r="0.59" opacity="0.54"/><circle cx="154.7" cy="392.8" r="0.58" opacity="0.59"/><circle cx="158.7" cy="395.2" r="0.62" opacity="0.43"/><circle cx="148.8" cy="379.5" r="0.60" opacity="0.61"/><circle cx="162.3" cy="392.4" r="0.74" opacity="0.66"/><circle cx="156.8" cy="362.6" r="0.52" opacity="0.49"/><circle cx="155.4" cy="387.8" r="0.51" opacity="0.49"/><circle cx="161.1" cy="391.6" r="0.53" opacity="0.65"/><circle cx="155.8" cy="386.5" r="0.70" opacity="0.71"/><circle cx="154.8" cy="387.5" r="0.43" opacity="0.80"/><circle cx="167.2" cy="380.5" r="0.40" opacity="0.74"/><circle cx="168.2" cy="378.2" r="0.48" opacity="0.46"/><circle cx="169.5" cy="374.8" r="0.54" opacity="0.46"/><circle cx="152.2" cy="381.3" r="0.43" opacity="0.71"/><circle cx="166.9" cy="386.0" r="0.42" opacity="0.35"/><circle cx="171.9" cy="377.2" r="0.60" opacity="0.79"/><circle cx="153.3" cy="388.8" r="0.52" opacity="0.66"/><circle cx="170.0" cy="378.1" r="0.60" opacity="0.57"/><circle cx="169.9" cy="371.4" r="0.55" opacity="0.68"/><circle cx="150.5" cy="386.9" r="0.47" opacity="0.36"/><circle cx="156.5" cy="389.7" r="0.44" opacity="0.56"/><circle cx="158.0" cy="368.7" r="0.51" opacity="0.65"/><circle cx="170.8" cy="363.8" r="0.54" opacity="0.76"/><circle cx="170.4" cy="390.4" r="0.74" opacity="0.72"/><circle cx="155.8" cy="363.3" r="0.55" opacity="0.67"/><circle cx="167.3" cy="366.4" r="0.72" opacity="0.48"/><circle cx="153.7" cy="389.1" r="0.41" opacity="0.75"/><circle cx="153.1" cy="370.0" r="0.46" opacity="0.57"/><circle cx="165.2" cy="369.0" r="0.52" opacity="0.54"/><circle cx="151.8" cy="383.2" r="0.70" opacity="0.36"/><circle cx="155.9" cy="367.1" r="0.67" opacity="0.56"/><circle cx="158.2" cy="368.6" r="0.53" opacity="0.47"/><circle cx="156.7" cy="366.0" r="0.60" opacity="0.65"/><circle cx="165.9" cy="376.4" r="0.74" opacity="0.77"/><circle cx="157.7" cy="357.9" r="0.52" opacity="0.58"/><circle cx="158.8" cy="366.1" r="0.66" opacity="0.65"/><circle cx="158.1" cy="400.3" r="0.62" opacity="0.43"/><circle cx="154.5" cy="370.6" r="0.73" opacity="0.74"/><circle cx="156.1" cy="387.2" r="0.42" opacity="0.72"/><circle cx="160.0" cy="362.7" r="0.69" opacity="0.61"/><circle cx="156.5" cy="396.4" r="0.42" opacity="0.38"/><circle cx="151.5" cy="381.8" r="0.48" opacity="0.71"/><circle cx="170.4" cy="384.9" r="0.61" opacity="0.43"/><circle cx="167.7" cy="378.4" r="0.48" opacity="0.36"/><circle cx="144.4" cy="380.1" r="0.52" opacity="0.61"/><circle cx="150.5" cy="372.2" r="0.52" opacity="0.64"/><circle cx="170.6" cy="393.4" r="0.49" opacity="0.39"/><circle cx="165.1" cy="367.3" r="0.71" opacity="0.52"/><circle cx="161.9" cy="394.8" r="0.49" opacity="0.57"/><circle cx="147.4" cy="391.1" r="0.62" opacity="0.74"/><circle cx="164.3" cy="366.3" r="0.65" opacity="0.72"/><circle cx="154.5" cy="359.3" r="0.72" opacity="0.40"/><circle cx="164.7" cy="389.0" r="0.46" opacity="0.56"/><circle cx="168.7" cy="361.9" r="0.53" opacity="0.60"/><circle cx="158.6" cy="388.8" r="0.62" opacity="0.47"/><circle cx="169.7" cy="378.7" r="0.71" opacity="0.48"/><circle cx="167.4" cy="371.9" r="0.68" opacity="0.42"/><circle cx="161.6" cy="354.4" r="0.64" opacity="0.53"/><circle cx="147.8" cy="373.8" r="0.63" opacity="0.63"/><circle cx="162.5" cy="391.7" r="0.42" opacity="0.49"/><circle cx="167.4" cy="384.8" r="0.56" opacity="0.39"/><circle cx="150.8" cy="376.0" r="0.67" opacity="0.43"/><circle cx="164.2" cy="358.8" r="0.60" opacity="0.47"/></g></g>
<g transform="rotate(-15 160 381)"><ellipse cx="160" cy="381" rx="7.5" ry="10.5" fill="url(#blob)" filter="url(#rough)"/>
<g fill="#3a2530" filter="url(#sb2)"><circle cx="166.7" cy="375.1" r="0.61" opacity="0.42"/><circle cx="155.4" cy="381.3" r="0.71" opacity="0.50"/><circle cx="158.0" cy="370.4" r="0.74" opacity="0.42"/><circle cx="161.2" cy="362.8" r="0.52" opacity="0.36"/><circle cx="161.2" cy="387.8" r="0.59" opacity="0.41"/><circle cx="163.9" cy="391.2" r="0.53" opacity="0.58"/><circle cx="163.2" cy="371.7" r="0.72" opacity="0.66"/><circle cx="160.2" cy="373.4" r="0.68" opacity="0.57"/><circle cx="159.5" cy="392.5" r="0.66" opacity="0.76"/><circle cx="166.7" cy="375.8" r="0.58" opacity="0.57"/><circle cx="167.1" cy="378.8" r="0.59" opacity="0.62"/><circle cx="155.3" cy="375.4" r="0.46" opacity="0.58"/><circle cx="162.7" cy="388.6" r="0.51" opacity="0.63"/><circle cx="155.2" cy="385.9" r="0.46" opacity="0.56"/><circle cx="157.4" cy="374.4" r="0.55" opacity="0.66"/></g></g>
<circle cx="142.8" cy="343.4" r="1.2" fill="#5e2e34" opacity="0.85" filter="url(#sb)"/>
<circle cx="139.2" cy="349.7" r="1" fill="#5e2e34" opacity="0.85" filter="url(#sb)"/>
<circle cx="129.6" cy="359.7" r="1.1" fill="#5e2e34" opacity="0.85" filter="url(#sb)"/>
<circle cx="126" cy="361" r="0.8" fill="#5e2e34" opacity="0.85" filter="url(#sb)"/>
<circle cx="113.6" cy="356.1" r="0.9" fill="#5e2e34" opacity="0.85" filter="url(#sb)"/>
<circle cx="151.4" cy="351.5" r="0.9" fill="#5e2e34" opacity="0.85" filter="url(#sb)"/>
<circle cx="155.9" cy="350.6" r="0.9" fill="#5e2e34" opacity="0.85" filter="url(#sb)"/>
<circle cx="160.4" cy="353.7" r="0.9" fill="#5e2e34" opacity="0.85" filter="url(#sb)"/>
<circle cx="167.7" cy="366" r="1" fill="#5e2e34" opacity="0.85" filter="url(#sb)"/>
<circle cx="99.6" cy="355.1" r="0.8" fill="#5e2e34" opacity="0.85" filter="url(#sb)"/>
<circle cx="106" cy="349.7" r="0.8" fill="#5e2e34" opacity="0.85" filter="url(#sb)"/>
<circle cx="168.6" cy="406.9" r="0.9" fill="#5e2e34" opacity="0.85" filter="url(#sb)"/>
<circle cx="99.4" cy="387.9" r="0.32" fill="#8a4a50" opacity="0.47"/>
<circle cx="111.0" cy="399.1" r="0.31" fill="#8a4a50" opacity="0.35"/>
<circle cx="115.9" cy="395.5" r="0.53" fill="#8a4a50" opacity="0.24"/>
<circle cx="100.5" cy="392.1" r="0.43" fill="#8a4a50" opacity="0.31"/>
<circle cx="122.7" cy="365.2" r="0.47" fill="#8a4a50" opacity="0.32"/>
<circle cx="106.3" cy="372.9" r="0.60" fill="#8a4a50" opacity="0.43"/>
<circle cx="150.4" cy="406.7" r="0.43" fill="#8a4a50" opacity="0.31"/>
<circle cx="155.9" cy="345.6" r="0.53" fill="#8a4a50" opacity="0.24"/>
<circle cx="143.3" cy="376.1" r="0.53" fill="#8a4a50" opacity="0.22"/>
<circle cx="146.9" cy="399.3" r="0.31" fill="#8a4a50" opacity="0.41"/>
<circle cx="117.6" cy="393.2" r="0.59" fill="#8a4a50" opacity="0.20"/>
<circle cx="127.1" cy="375.0" r="0.59" fill="#8a4a50" opacity="0.48"/>
<circle cx="98.8" cy="348.1" r="0.42" fill="#8a4a50" opacity="0.44"/>
<circle cx="155.7" cy="379.2" r="0.58" fill="#8a4a50" opacity="0.45"/>
<circle cx="162.3" cy="385.0" r="0.38" fill="#8a4a50" opacity="0.42"/>
<circle cx="150.2" cy="406.8" r="0.35" fill="#8a4a50" opacity="0.21"/>
<circle cx="122.2" cy="357.0" r="0.42" fill="#8a4a50" opacity="0.22"/>
<circle cx="142.3" cy="369.7" r="0.38" fill="#8a4a50" opacity="0.23"/>
<circle cx="139.6" cy="345.4" r="0.56" fill="#8a4a50" opacity="0.28"/>
<circle cx="163.8" cy="347.2" r="0.42" fill="#8a4a50" opacity="0.43"/>
<circle cx="135.7" cy="371.2" r="0.56" fill="#8a4a50" opacity="0.25"/>
<circle cx="160.3" cy="376.1" r="0.39" fill="#8a4a50" opacity="0.30"/>
<circle cx="117.5" cy="384.9" r="0.43" fill="#8a4a50" opacity="0.36"/>
<circle cx="145.2" cy="401.7" r="0.51" fill="#8a4a50" opacity="0.29"/>
<circle cx="146.4" cy="389.3" r="0.57" fill="#8a4a50" opacity="0.32"/>
</g>
<path d="M96.7 412.1 V338 M171.4 338 V412.1 H96.7" fill="none" stroke="#3c3c3c" stroke-width="1"/>
<line x1="96.2" y1="338" x2="171.9" y2="338" stroke="#8a8a8a" stroke-width="1.2"/>
<text transform="translate(185.6 253) scale(0.97 1)" font-size="13.2" font-weight="bold" stroke="#000" stroke-width="0.35">d</text>
<line x1="228.8" y1="268.7" x2="228.8" y2="383.2" stroke="#9a9a9a" stroke-width="1.2"/>
<line x1="223.8" y1="383.2" x2="228.8" y2="383.2" stroke="#222" stroke-width="1"/>
<text x="218.9" y="386.8" font-size="10" text-anchor="end" fill="#000" font-weight="normal">0</text>
<line x1="223.8" y1="345.09999999999997" x2="228.8" y2="345.09999999999997" stroke="#222" stroke-width="1"/>
<text x="218.9" y="348.7" font-size="10" text-anchor="end" fill="#000" font-weight="normal">50</text>
<line x1="223.8" y1="307.0" x2="228.8" y2="307.0" stroke="#222" stroke-width="1"/>
<text x="218.9" y="310.6" font-size="10" text-anchor="end" fill="#000" font-weight="normal">100</text>
<line x1="223.8" y1="268.9" x2="228.8" y2="268.9" stroke="#222" stroke-width="1"/>
<text x="218.9" y="272.5" font-size="10" text-anchor="end" fill="#000" font-weight="normal">150</text>
<line x1="223.8" y1="383.3" x2="420" y2="383.3" stroke="#222" stroke-width="1"/>
<line x1="255.5" y1="383.3" x2="255.5" y2="388.7" stroke="#222" stroke-width="1"/>
<line x1="301.3" y1="383.3" x2="301.3" y2="388.7" stroke="#222" stroke-width="1"/>
<line x1="347.5" y1="383.3" x2="347.5" y2="388.7" stroke="#222" stroke-width="1"/>
<line x1="393.4" y1="383.3" x2="393.4" y2="388.7" stroke="#222" stroke-width="1"/>
<text x="255.5" y="402.5" font-size="10" text-anchor="middle" fill="#000" font-weight="normal">Ctrl</text>
<text x="301.3" y="402.5" font-size="10" text-anchor="middle"><tspan font-style="italic">SAM</tspan> O/E</text>
<text x="347.5" y="402.5" font-size="10" text-anchor="middle" fill="#000" font-weight="normal">Ctrl</text>
<text x="347.5" y="415.4" font-size="10" text-anchor="middle" fill="#000" font-weight="normal">+LTA</text>
<text x="393.4" y="402.5" font-size="10" text-anchor="middle"><tspan font-style="italic">SAM</tspan> O/E</text>
<text x="393.4" y="415.4" font-size="10" text-anchor="middle" fill="#000" font-weight="normal">+LTA</text>
<text x="196.2" y="326.2" font-size="10.2" text-anchor="middle" fill="#000" font-weight="normal" transform="rotate(-90 196.2 326.2)">Number of colonies</text>
<polyline points="255.5,376.5 255.5,267.6 393.2,267.6 393.2,271" fill="none" stroke="#333" stroke-width="1" stroke-linejoin="round"/>
<polygon points="324.10,259.45 324.68,261.00 326.33,261.07 325.04,262.10 325.48,263.70 324.10,262.79 322.72,263.70 323.16,262.10 321.87,261.07 323.52,261.00" fill="#111"/>
<polyline points="301.3,375.7 301.3,276.3 393.2,276.3 393.2,281.5" fill="none" stroke="#333" stroke-width="1" stroke-linejoin="round"/>
<polygon points="346.40,268.65 346.98,270.20 348.63,270.27 347.34,271.30 347.78,272.90 346.40,271.99 345.02,272.90 345.46,271.30 344.17,270.27 345.82,270.20" fill="#111"/>
<polyline points="347.5,349.4 347.5,285.5 393.2,285.5 393.2,288.9" fill="none" stroke="#333" stroke-width="1" stroke-linejoin="round"/>
<polygon points="369.50,277.85 370.08,279.40 371.73,279.47 370.44,280.50 370.88,282.10 369.50,281.19 368.12,282.10 368.56,280.50 367.27,279.47 368.92,279.40" fill="#111"/>
<line x1="236.7" y1="382.6" x2="274.2" y2="382.6" stroke="#111" stroke-width="1.5"/>
<circle cx="246.7" cy="382.2" r="2.8" fill="#a0a0a0"/>
<circle cx="255.5" cy="382.2" r="2.8" fill="#a0a0a0"/>
<circle cx="264.2" cy="382.2" r="2.8" fill="#a0a0a0"/>
<line x1="282.2" y1="381.2" x2="320.5" y2="381.2" stroke="#222" stroke-width="1"/>
<circle cx="292.6" cy="380.6" r="2.8" fill="#ff0000"/>
<circle cx="301.4" cy="381.9" r="2.8" fill="#ff0000"/>
<circle cx="310.1" cy="381.7" r="2.8" fill="#ff0000"/>
<line x1="327.9" y1="359.3" x2="366.2" y2="359.3" stroke="#222" stroke-width="1"/>
<line x1="337.9" y1="357" x2="356.8" y2="357" stroke="#222" stroke-width="1"/>
<line x1="337.9" y1="362.3" x2="356.8" y2="362.3" stroke="#222" stroke-width="1"/>
<line x1="347.5" y1="357" x2="347.5" y2="362.3" stroke="#222" stroke-width="1"/>
<circle cx="338.3" cy="354.8" r="2.8" fill="#000"/>
<circle cx="347" cy="363.2" r="2.8" fill="#000"/>
<circle cx="355.8" cy="360.7" r="2.8" fill="#000"/>
<line x1="374" y1="311.6" x2="412.1" y2="311.6" stroke="#222" stroke-width="1"/>
<line x1="383.1" y1="301.9" x2="402.9" y2="301.9" stroke="#555" stroke-width="1"/>
<line x1="383.1" y1="321.4" x2="402.9" y2="321.4" stroke="#222" stroke-width="1"/>
<line x1="393.2" y1="301.9" x2="393.2" y2="321.4" stroke="#222" stroke-width="1"/>
<circle cx="393.2" cy="294.3" r="3" fill="#ff8000"/>
<circle cx="393.2" cy="313.2" r="3" fill="#ff8000"/>
<circle cx="393.2" cy="327.3" r="3" fill="#ff8000"/>
<text transform="translate(443.6 253.2) scale(0.95 1)" font-size="14.2" font-weight="bold" stroke="#000" stroke-width="0.35">e</text>
<line x1="489.5" y1="268.9" x2="489.5" y2="383.3" stroke="#9a9a9a" stroke-width="1.2"/>
<line x1="485" y1="383.3" x2="489.5" y2="383.3" stroke="#222" stroke-width="1"/>
<text x="481" y="386.90000000000003" font-size="10" text-anchor="end" fill="#000" font-weight="normal">0</text>
<line x1="485" y1="360.42" x2="489.5" y2="360.42" stroke="#222" stroke-width="1"/>
<text x="481" y="364.02000000000004" font-size="10" text-anchor="end" fill="#000" font-weight="normal">50</text>
<line x1="485" y1="337.54" x2="489.5" y2="337.54" stroke="#222" stroke-width="1"/>
<text x="481" y="341.14000000000004" font-size="10" text-anchor="end" fill="#000" font-weight="normal">100</text>
<line x1="485" y1="314.65999999999997" x2="489.5" y2="314.65999999999997" stroke="#222" stroke-width="1"/>
<text x="481" y="318.26" font-size="10" text-anchor="end" fill="#000" font-weight="normal">150</text>
<line x1="485" y1="291.78" x2="489.5" y2="291.78" stroke="#222" stroke-width="1"/>
<text x="481" y="295.38" font-size="10" text-anchor="end" fill="#000" font-weight="normal">200</text>
<line x1="485" y1="268.9" x2="489.5" y2="268.9" stroke="#222" stroke-width="1"/>
<text x="481" y="272.5" font-size="10" text-anchor="end" fill="#000" font-weight="normal">250</text>
<line x1="484.6" y1="383.3" x2="679.9" y2="383.3" stroke="#222" stroke-width="1"/>
<line x1="516.6" y1="383.3" x2="516.6" y2="388.7" stroke="#222" stroke-width="1"/>
<line x1="562.1" y1="383.3" x2="562.1" y2="388.7" stroke="#222" stroke-width="1"/>
<line x1="608.1" y1="383.3" x2="608.1" y2="388.7" stroke="#222" stroke-width="1"/>
<line x1="654" y1="383.3" x2="654" y2="388.7" stroke="#222" stroke-width="1"/>
<text x="516.6" y="402.8" font-size="10" text-anchor="middle" fill="#000" font-weight="normal">Ctrl</text>
<text x="562.1" y="402.8" font-size="10" text-anchor="middle"><tspan font-style="italic">SAM</tspan> O/E</text>
<text x="608.1" y="402.8" font-size="10" text-anchor="middle" fill="#000" font-weight="normal">Ctrl</text>
<text x="608.1" y="415.4" font-size="10" text-anchor="middle" fill="#000" font-weight="normal">+LTA</text>
<text x="654" y="402.8" font-size="10" text-anchor="middle"><tspan font-style="italic">SAM</tspan> O/E</text>
<text x="654" y="415.4" font-size="10" text-anchor="middle" fill="#000" font-weight="normal">+LTA</text>
<text x="453.6" y="318" font-size="10.2" text-anchor="middle" fill="#000" font-weight="normal" transform="rotate(-90 453.6 318)">Colony size (A.U.)</text>
<polyline points="516.6,356.8 516.6,256.7 653.9,256.7 653.9,262.1" fill="none" stroke="#333" stroke-width="1" stroke-linejoin="round"/>
<polygon points="582.25,248.95 582.83,250.50 584.48,250.57 583.19,251.60 583.63,253.20 582.25,252.29 580.87,253.20 581.31,251.60 580.02,250.57 581.67,250.50" fill="#111"/>
<polygon points="587.75,248.95 588.33,250.50 589.98,250.57 588.69,251.60 589.13,253.20 587.75,252.29 586.37,253.20 586.81,251.60 585.52,250.57 587.17,250.50" fill="#111"/>
<polyline points="562.3,351.1 562.3,266.2 653.9,266.2 653.9,271" fill="none" stroke="#333" stroke-width="1" stroke-linejoin="round"/>
<polygon points="608.00,258.45 608.58,260.00 610.23,260.07 608.94,261.10 609.38,262.70 608.00,261.79 606.62,262.70 607.06,261.10 605.77,260.07 607.42,260.00" fill="#111"/>
<polyline points="608.2,307.1 608.2,274 653.9,274 653.9,277.8" fill="none" stroke="#333" stroke-width="1" stroke-linejoin="round"/>
<polygon points="631.00,267.85 631.58,269.40 633.23,269.47 631.94,270.50 632.38,272.10 631.00,271.19 629.62,272.10 630.06,270.50 628.77,269.47 630.42,269.40" fill="#111"/>
<line x1="497.1" y1="363.1" x2="535.9" y2="363.1" stroke="#111" stroke-width="1.5"/>
<circle cx="507.6" cy="361.3" r="2.85" fill="#a0a0a0"/>
<circle cx="516.6" cy="364" r="2.85" fill="#a0a0a0"/>
<circle cx="525.4" cy="363.5" r="2.85" fill="#a0a0a0"/>
<line x1="543.3" y1="357.6" x2="581.1" y2="357.6" stroke="#222" stroke-width="1"/>
<line x1="552.7" y1="354.8" x2="572" y2="354.8" stroke="#222" stroke-width="1"/>
<line x1="552.7" y1="360.5" x2="572" y2="360.5" stroke="#222" stroke-width="1"/>
<circle cx="562.1" cy="352.5" r="2.8" fill="#ff0000"/>
<circle cx="566.9" cy="358.2" r="2.8" fill="#ff0000"/>
<circle cx="557.8" cy="362.4" r="2.8" fill="#ff0000"/>
<line x1="589" y1="335.5" x2="627.4" y2="335.5" stroke="#222" stroke-width="1"/>
<line x1="598.1" y1="323.6" x2="618" y2="323.6" stroke="#222" stroke-width="1"/>
<line x1="598.1" y1="346.3" x2="618" y2="346.3" stroke="#222" stroke-width="1"/>
<line x1="608.1" y1="323.6" x2="608.1" y2="346.3" stroke="#222" stroke-width="1"/>
<circle cx="608.1" cy="313.3" r="2.8" fill="#000"/>
<circle cx="608.1" cy="339.7" r="2.8" fill="#000"/>
<circle cx="608.1" cy="352.5" r="2.8" fill="#000"/>
<line x1="635" y1="293.2" x2="672.8" y2="293.2" stroke="#222" stroke-width="1"/>
<line x1="643.9" y1="287.5" x2="663.4" y2="287.5" stroke="#222" stroke-width="1"/>
<line x1="643.9" y1="298.9" x2="663.4" y2="298.9" stroke="#222" stroke-width="1"/>
<line x1="653.9" y1="287.5" x2="653.9" y2="298.9" stroke="#222" stroke-width="1"/>
<circle cx="653.9" cy="282.7" r="3" fill="#ff8000"/>
<circle cx="658.5" cy="294.8" r="3" fill="#ff8000"/>
<circle cx="649.3" cy="302.9" r="3" fill="#ff8000"/>
</svg></body></html>
